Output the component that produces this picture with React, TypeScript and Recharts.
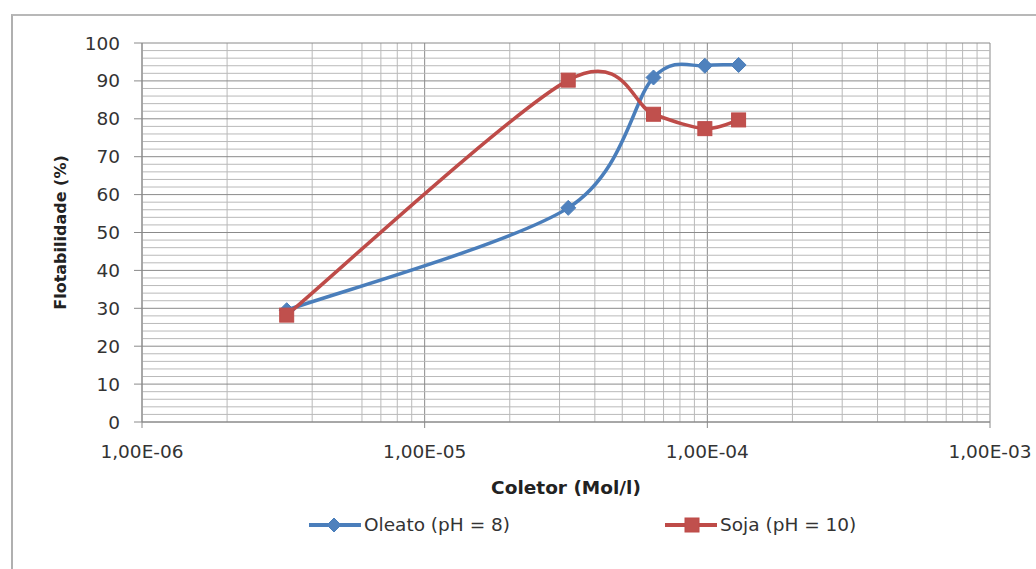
import React from 'react';
import {
  LineChart,
  Line,
  XAxis,
  YAxis,
  CartesianGrid,
  Legend,
  Label,
  ReferenceLine,
} from 'recharts';

// ---- data ----
const concentrations = [3.25e-6, 3.22e-5, 6.45e-5, 9.8e-5, 1.29e-4];
const oleatoValues = [29.5, 56.5, 90.9, 94.0, 94.2];
const sojaValues = [28.2, 90.2, 81.2, 77.4, 79.7];

const seriesNames = ['Oleato (pH = 8)', 'Soja (pH = 10)'];
const xTicks = [1e-6, 1e-5, 1e-4, 1e-3];
const xTickLabels = ['1,00E-06', '1,00E-05', '1,00E-04', '1,00E-03'];
const yTicks = [0, 10, 20, 30, 40, 50, 60, 70, 80, 90, 100];
const yMinorValues = [
  2, 4, 6, 8, 12, 14, 16, 18, 22, 24, 26, 28, 32, 34, 36, 38, 42, 44, 46, 48,
  52, 54, 56, 58, 62, 64, 66, 68, 72, 74, 76, 78, 82, 84, 86, 88, 92, 94, 96, 98,
];
const xMinorValues = [
  2e-6, 3e-6, 4e-6, 5e-6, 6e-6, 7e-6, 8e-6, 9e-6,
  2e-5, 3e-5, 4e-5, 5e-5, 6e-5, 7e-5, 8e-5, 9e-5,
  2e-4, 3e-4, 4e-4, 5e-4, 6e-4, 7e-4, 8e-4, 9e-4,
];
const xTitle = 'Coletor (Mol/l)';
const yTitle = 'Flotabilidade (%)';

const data = concentrations.map((c, i) => ({
  conc: c,
  oleato: oleatoValues[i],
  soja: sojaValues[i],
}));

const BLUE = '#4A7EBB';
const BLUE_FILL = '#4F81BD';
const RED = '#BE4B48';
const RED_FILL = '#C0504D';
const FONT = "'DejaVu Sans', sans-serif";
const TEXT = '#333333';
const MINOR = '#b9b9b9';
const MAJOR = '#8a8a8a';

// Excel-like smoothing (Catmull-Rom style cubic Bezier)
const excelSmooth: any = (context: any) => {
  let pts: number[][] = [];
  return {
    areaStart() {},
    areaEnd() {},
    lineStart() {
      pts = [];
    },
    point(x: number, y: number) {
      pts.push([+x, +y]);
    },
    lineEnd() {
      if (!pts.length) return;
      context.moveTo(pts[0][0], pts[0][1]);
      for (let i = 0; i < pts.length - 1; i++) {
        const p0 = pts[i - 1] || pts[i];
        const p1 = pts[i];
        const p2 = pts[i + 1];
        const p3 = pts[i + 2] || pts[i + 1];
        const k = 1 / 6.5;
        const c1x = p1[0] + (p2[0] - p0[0]) * k;
        const c1y = p1[1] + (p2[1] - p0[1]) * k;
        const c2x = p2[0] - (p3[0] - p1[0]) * k;
        const c2y = p2[1] - (p3[1] - p1[1]) * k;
        context.bezierCurveTo(c1x, c1y, c2x, c2y, p2[0], p2[1]);
      }
    },
  };
};

const renderDiamond = (props: any) => {
  const { cx, cy, index } = props;
  const s = 7.5;
  return (
    <path
      key={`dia-${index}`}
      d={`M${cx},${cy - s}L${cx + s},${cy}L${cx},${cy + s}L${cx - s},${cy}Z`}
      fill={BLUE_FILL}
      stroke={BLUE}
      strokeWidth={1}
    />
  );
};

const renderSquare = (props: any) => {
  const { cx, cy, index } = props;
  const s = 7;
  return (
    <rect
      key={`sq-${index}`}
      x={cx - s}
      y={cy - s}
      width={2 * s}
      height={2 * s}
      fill={RED_FILL}
      stroke={RED}
      strokeWidth={1}
    />
  );
};

const LegendContent = () => (
  <div style={{ position: 'relative', width: 1036, height: 26, fontFamily: FONT, fontSize: 18.5, color: TEXT }}>
    <svg style={{ position: 'absolute', left: 309, top: 0 }} width={52} height={26}>
      <line x1={0} y1={13} x2={52} y2={13} stroke={BLUE} strokeWidth={4} />
      <path d="M25,6L32,13L25,20L18,13Z" fill={BLUE_FILL} stroke={BLUE} />
    </svg>
    <span style={{ position: 'absolute', left: 364, top: 0, lineHeight: '26px', whiteSpace: 'pre' }}>
      {seriesNames[0]}
    </span>
    <svg style={{ position: 'absolute', left: 665, top: 0 }} width={52} height={26}>
      <line x1={0} y1={13} x2={52} y2={13} stroke={RED} strokeWidth={4} />
      <rect x={20} y={6} width={14} height={14} fill={RED_FILL} stroke={RED} />
    </svg>
    <span style={{ position: 'absolute', left: 720, top: 0, lineHeight: '26px', whiteSpace: 'pre' }}>
      {seriesNames[1]}
    </span>
  </div>
);

export default function App() {
  return (
    <div style={{ position: 'absolute', left: 0, top: 0, width: 1036, height: 569, background: '#fff', overflow: 'hidden' }}>
      <div
        style={{
          position: 'absolute',
          left: 11,
          top: 14,
          width: 1100,
          height: 700,
          borderLeft: '2px solid #b0b0b0',
          borderTop: '2px solid #b8b8b8',
        }}
      />
      <div style={{ position: 'absolute', left: 0, top: 0 }}>
        <LineChart
          width={1036}
          height={569}
          data={data}
          margin={{ top: 43, right: 46, left: 0, bottom: 0 }}
          style={{ fontFamily: FONT }}
        >
          <CartesianGrid
            stroke={MINOR}
            strokeWidth={1}
            horizontal={false}
            verticalValues={xMinorValues}
          />
          {yMinorValues.map((v) => (
            <ReferenceLine key={`ym-${v}`} y={v} stroke={MINOR} strokeWidth={1} />
          ))}
          <CartesianGrid stroke={MAJOR} strokeWidth={1} />
          <XAxis
            dataKey="conc"
            type="number"
            scale="log"
            domain={[1e-6, 1e-3]}
            ticks={xTicks}
            allowDataOverflow
            height={147}
            stroke={MAJOR}
            tickSize={6}
            tickMargin={17}
            tick={{ fill: TEXT, fontSize: 18.5, fontFamily: FONT }}
            tickFormatter={(v: number, i: number) => xTickLabels[i]}
          >
            <Label
              content={(p: any) => {
                const vb = p.viewBox || {};
                const cx = vb.x + vb.width / 2;
                return (
                  <text
                    x={cx}
                    y={vb.y + 65}
                    textAnchor="middle"
                    dominantBaseline="central"
                    fontFamily={FONT}
                    fontSize={18.5}
                    fontWeight="bold"
                    fill="#222"
                  >
                    {xTitle}
                  </text>
                );
              }}
            />
          </XAxis>
          <YAxis
            type="number"
            domain={[0, 100]}
            ticks={yTicks}
            width={142}
            stroke={MAJOR}
            tickSize={8}
            tickMargin={14}
            tick={{ fill: TEXT, fontSize: 18.5, fontFamily: FONT }}
          >
            <Label
              content={(p: any) => {
                const vb = p.viewBox || {};
                const cy = vb.y + vb.height / 2;
                const cx = 60;
                return (
                  <text
                    x={cx}
                    y={cy}
                    transform={`rotate(-90 ${cx} ${cy})`}
                    textAnchor="middle"
                    dominantBaseline="central"
                    fontFamily={FONT}
                    fontSize={16}
                    fontWeight="bold"
                    fill="#222"
                  >
                    {yTitle}
                  </text>
                );
              }}
            />
          </YAxis>
          <Legend
            layout="horizontal"
            verticalAlign="middle"
            align="center"
            wrapperStyle={{ position: 'absolute', top: 512, left: 0, width: 1036 }}
            content={() => <LegendContent />}
          />
          <Line
            dataKey="oleato"
            name={seriesNames[0]}
            type={excelSmooth}
            stroke={BLUE}
            strokeWidth={3.5}
            dot={renderDiamond}
            activeDot={false}
            isAnimationActive={false}
          />
          <Line
            dataKey="soja"
            name={seriesNames[1]}
            type={excelSmooth}
            stroke={RED}
            strokeWidth={3.5}
            dot={renderSquare}
            activeDot={false}
            isAnimationActive={false}
          />
        </LineChart>
      </div>
    </div>
  );
}
